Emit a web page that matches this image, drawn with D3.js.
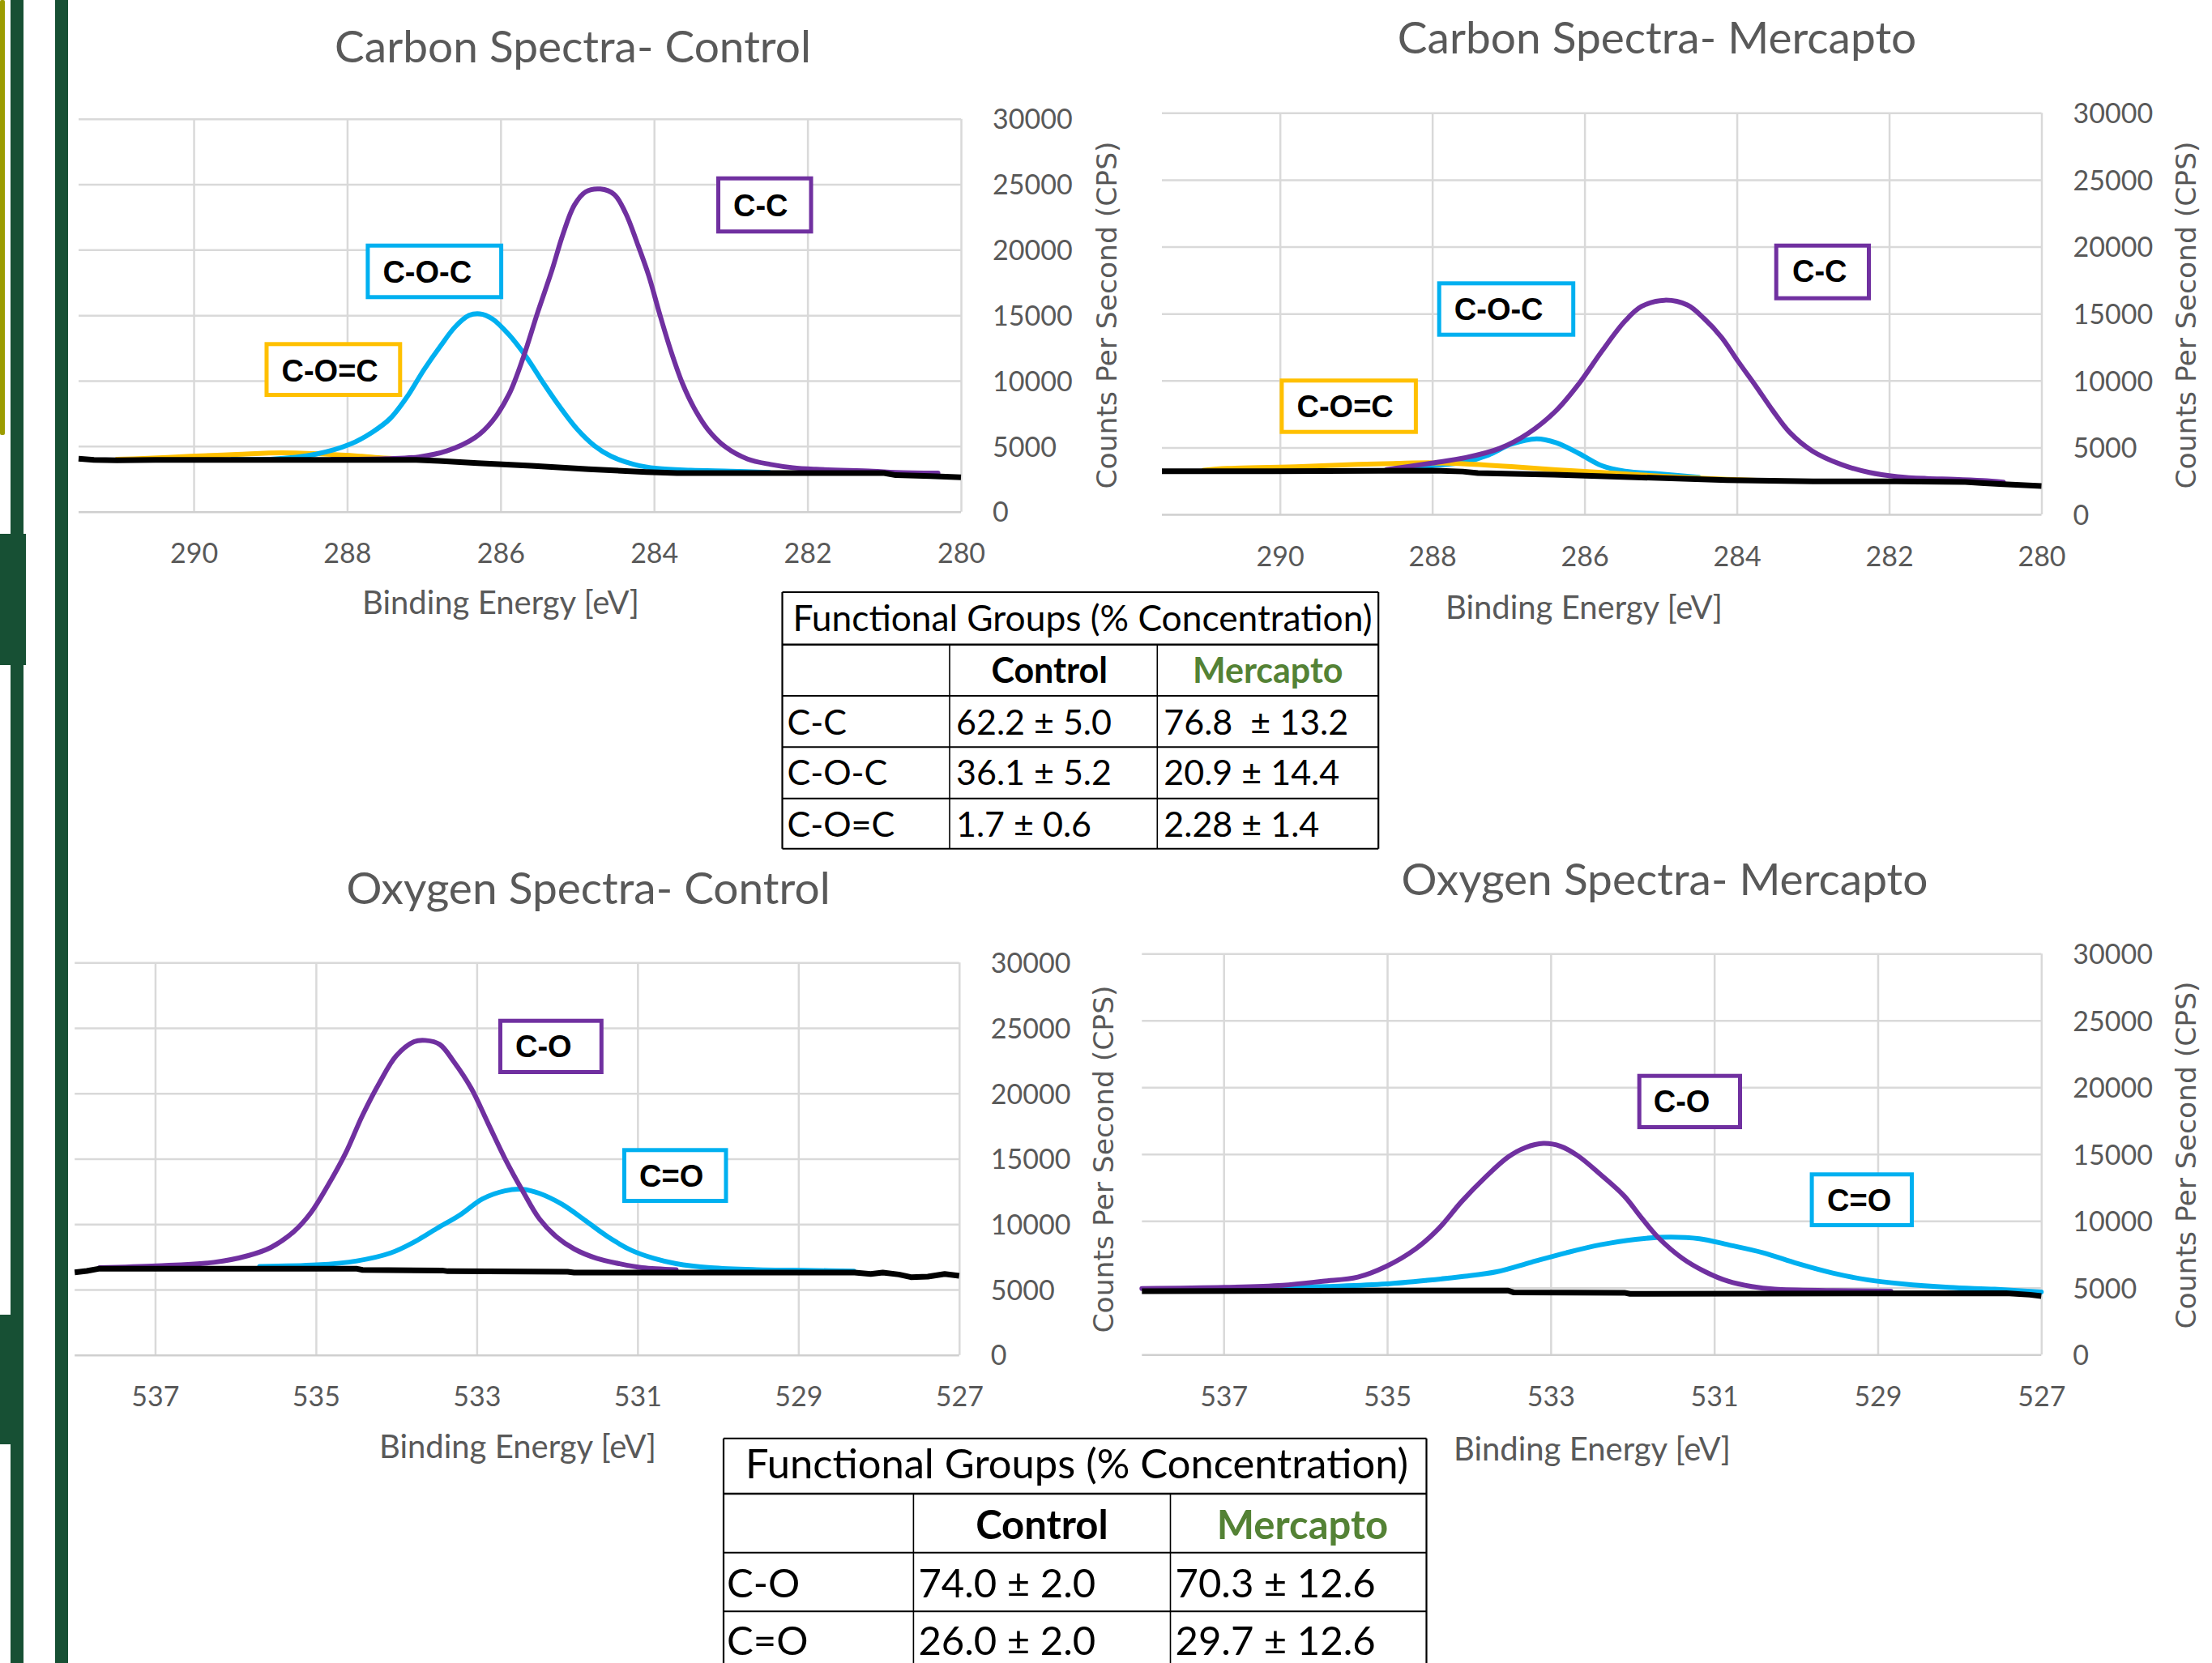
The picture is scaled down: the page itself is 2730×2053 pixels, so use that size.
<!DOCTYPE html>
<html>
<head>
<meta charset="utf-8">
<script src="https://cdn.jsdelivr.net/npm/d3@7"></script>
<style>
  body { margin: 0; background: #fff; }
  svg { display: block; }
</style>
</head>
<body>
<div id="chart"></div>
<script>
// ---------- Data ----------
const carbonTicks = [290, 288, 286, 284, 282, 280];
const oxygenTicks = [537, 535, 533, 531, 529, 527];
const countTicks = [0, 5000, 10000, 15000, 20000, 25000, 30000];

// [binding energy (eV), counts per second]
const cCtrlBackground = [[291.5,4050],[291.3,3950],[291.0,3920],[290.5,3950],[289.3,3960],[288.0,3960],[287.1,3950],[286.8,3880],[286.3,3710],[285.6,3500],[284.85,3240],[284.1,3030],[283.7,2950],[282.5,2950],[281.0,2950],[280.85,2790],[280.4,2720],[280.0,2620]];
const cCtrlCC = [[288.2,3990],[287.5,4050],[287.07,4180],[286.7,4640],[286.33,5670],[286.11,6900],[285.89,8970],[285.70,11860],[285.52,15160],[285.33,18450],[285.19,21140],[285.04,23400],[284.89,24430],[284.70,24640],[284.52,24230],[284.37,22790],[284.22,20520],[284.07,18040],[283.93,15160],[283.78,12270],[283.63,9800],[283.48,7940],[283.30,6290],[283.07,4950],[282.78,4020],[282.48,3610],[282.19,3360],[281.89,3240],[281.15,3090],[280.85,3000],[280.3,2950]];
const cCtrlCOC = [[289.5,3980],[289.0,4000],[288.41,4390],[287.96,5160],[287.67,6080],[287.44,7110],[287.22,8760],[287.0,10830],[286.78,12680],[286.59,14130],[286.41,14990],[286.27,15110],[286.11,14740],[285.89,13510],[285.67,11860],[285.44,9800],[285.22,7940],[285.0,6290],[284.78,5050],[284.56,4230],[284.26,3610],[283.96,3300],[283.52,3160],[283.0,3090],[282.5,3000]];
const cCtrlCOdC = [[291.0,4000],[290.78,4030],[290.04,4230],[289.44,4370],[288.85,4490],[288.26,4390],[287.81,4230],[287.52,4100],[287.0,3990]];

const cMercBackground = [[291.55,3230],[290.1,3230],[288.0,3270],[287.6,3200],[287.4,3090],[286.4,2970],[285.25,2760],[284.13,2560],[283.0,2460],[281.9,2460],[281.0,2420],[280.75,2330],[280.5,2250],[280.0,2120]];
const cMercCC = [[288.6,3350],[288.01,3830],[287.56,4240],[287.11,4940],[286.74,6050],[286.37,7770],[286.07,9790],[285.77,12210],[285.47,14430],[285.25,15540],[284.95,16000],[284.65,15640],[284.43,14630],[284.20,13220],[283.98,11400],[283.75,9580],[283.53,7770],[283.31,6150],[283.01,4740],[282.63,3730],[282.26,3130],[281.89,2820],[281.51,2680],[281.14,2620],[280.77,2520],[280.5,2400]];
const cMercCOC = [[288.5,3400],[288.01,3630],[287.56,3930],[287.26,4440],[286.96,5250],[286.63,5650],[286.37,5350],[286.07,4540],[285.77,3630],[285.47,3230],[285.02,3030],[284.5,2770]];
const cMercCOdC = [[291.0,3300],[290.69,3430],[289.72,3570],[288.98,3730],[288.46,3810],[288.01,3850],[287.56,3770],[286.96,3570],[286.37,3330],[285.77,3130],[284.87,2820],[284.13,2620],[283.38,2480]];

const oCtrlBackground = [[538.0,6320],[537.85,6420],[537.69,6600],[534.5,6600],[534.42,6500],[533.43,6460],[533.36,6400],[531.87,6360],[531.79,6300],[528.3,6300],[528.1,6190],[527.95,6300],[527.75,6150],[527.6,5950],[527.39,5990],[527.18,6190],[527.0,6050]];
const oCtrlCO = [[537.69,6670],[536.98,6810],[536.27,7080],[535.84,7600],[535.56,8220],[535.27,9460],[535.06,10900],[534.85,12970],[534.63,15440],[534.42,18330],[534.21,20810],[534.0,22880],[533.78,23950],[533.64,24050],[533.46,23740],[533.29,22460],[533.07,20400],[532.86,17720],[532.65,15030],[532.43,12550],[532.22,10400],[532.01,9040],[531.79,8110],[531.51,7390],[531.23,6980],[530.94,6670],[530.52,6520]];
const oCtrlCdO = [[535.70,6770],[534.99,6880],[534.49,7190],[534.07,7800],[533.78,8630],[533.50,9660],[533.21,10700],[532.93,11930],[532.65,12550],[532.43,12660],[532.22,12350],[531.94,11520],[531.65,10280],[531.37,9040],[531.08,8010],[530.80,7390],[530.52,6980],[530.09,6670],[529.52,6520],[528.81,6460],[528.31,6400]];

const oMercBackground = [[538.0,4750],[535.0,4790],[533.52,4790],[533.45,4650],[532.1,4630],[532.03,4550],[527.43,4590],[527.14,4480],[527.0,4380]];
const oMercCO = [[538.0,4950],[536.99,5030],[536.28,5190],[535.79,5490],[535.36,5800],[535.01,6610],[534.65,7920],[534.37,9430],[534.09,11450],[533.80,13270],[533.52,14790],[533.31,15490],[533.09,15800],[532.88,15590],[532.67,14890],[532.39,13470],[532.10,11860],[531.89,10240],[531.68,8730],[531.39,7210],[531.11,6200],[530.83,5490],[530.54,5090],[530.26,4890],[529.55,4790],[528.84,4750]];
const oMercCdO = [[536.28,5030],[535.58,5130],[535.01,5290],[534.51,5560],[534.09,5840],[533.66,6200],[533.24,6910],[532.81,7620],[532.39,8220],[531.96,8630],[531.54,8790],[531.18,8670],[530.83,8220],[530.40,7620],[529.98,6810],[529.55,6100],[529.13,5600],[528.70,5290],[528.13,5030],[527.57,4890],[527.0,4690]];

// Tables
const tableColumns = ["Control", "Mercapto"];
const carbonGroups = ["C-C", "C-O-C", "C-O=C"];
const carbonControlPct = ["62.2 \u00b1 5.0", "36.1 \u00b1 5.2", "1.7 \u00b1 0.6"];
const carbonMercaptoPct = ["76.8  \u00b1 13.2", "20.9 \u00b1 14.4", "2.28 \u00b1 1.4"];
const oxygenGroups = ["C-O", "C=O"];
const oxygenControlPct = ["74.0 \u00b1 2.0", "26.0 \u00b1 2.0"];
const oxygenMercaptoPct = ["70.3 \u00b1 12.6", "29.7 \u00b1 12.6"];

// ---------- Style ----------
const W = 2730, H = 2053;
const purple = "#7030A0", cyan = "#00B0F0", yellow = "#FFC000";
const green = "#175034";
const gray = "#595959";
const gridColor = "#d9d9d9";
const sans = "Lato, 'Open Sans', sans-serif";

const svg = d3.select("#chart").append("svg")
    .attr("width", W).attr("height", H)
    .attr("viewBox", `0 0 ${W} ${H}`);

svg.append("rect").attr("width", W).attr("height", H).attr("fill", "#fff");

// Poster side bars
svg.append("rect").attr("x", 0).attr("y", 0).attr("width", 6).attr("height", 537).attr("rx", 2).attr("fill", "#9c9c00");
svg.append("rect").attr("x", 13).attr("y", 0).attr("width", 16).attr("height", H).attr("fill", green);
svg.append("rect").attr("x", 68).attr("y", 0).attr("width", 16).attr("height", H).attr("fill", green);
svg.append("rect").attr("x", 0).attr("y", 659).attr("width", 32).attr("height", 162).attr("fill", green);
svg.append("rect").attr("x", 0).attr("y", 1623).attr("width", 29).attr("height", 160).attr("fill", green);

// ---------- Panels ----------
const panels = [
  {
    title: "Carbon Spectra- Control", domain: [291.5, 280], ticks: carbonTicks,
    x0: 97, x1: 1186, top: 146.7, bottom: 631.7,
    titleX: 707, titleY: 76.5, xTitleX: 618, xTitleY: 757.6, yTitleX: 1378, yTitleY: 389,
    background: cCtrlBackground,
    series: [{ data: cCtrlCOdC, color: yellow }, { data: cCtrlCOC, color: cyan }, { data: cCtrlCC, color: purple }],
    boxes: [
      { label: "C-C", color: purple, x: 884, y: 217.7, w: 119.5, h: 70.6, tx: 905, ty: 267 },
      { label: "C-O-C", color: cyan, x: 451.4, y: 300.7, w: 169.7, h: 68.6, tx: 472.4, ty: 349 },
      { label: "C-O=C", color: yellow, x: 326.5, y: 422.3, w: 169.8, h: 67.7, tx: 347.5, ty: 471 }
    ]
  },
  {
    title: "Carbon Spectra- Mercapto", domain: [291.55, 280], ticks: carbonTicks,
    x0: 1434, x1: 2519.5, top: 139.3, bottom: 635,
    titleX: 2045, titleY: 66.3, xTitleX: 1955, xTitleY: 763.8, yTitleX: 2710, yTitleY: 389,
    background: cMercBackground,
    series: [{ data: cMercCOC, color: cyan }, { data: cMercCOdC, color: yellow }, { data: cMercCC, color: purple }],
    boxes: [
      { label: "C-C", color: purple, x: 2189.7, y: 300.7, w: 119.3, h: 70, tx: 2212, ty: 348.3 },
      { label: "C-O-C", color: cyan, x: 1773.7, y: 347.3, w: 170.5, h: 68.4, tx: 1794.8, ty: 395 },
      { label: "C-O=C", color: yellow, x: 1579.4, y: 467.3, w: 170.5, h: 68.4, tx: 1600.5, ty: 515 }
    ]
  },
  {
    title: "Oxygen Spectra- Control", domain: [538, 527], ticks: oxygenTicks,
    x0: 92.2, x1: 1183.8, top: 1188.3, bottom: 1672.7,
    titleX: 726, titleY: 1116.3, xTitleX: 639, xTitleY: 1800, yTitleX: 1373.5, yTitleY: 1431,
    background: oCtrlBackground,
    series: [{ data: oCtrlCdO, color: cyan }, { data: oCtrlCO, color: purple }],
    boxes: [
      { label: "C-O", color: purple, x: 615, y: 1257.7, w: 129.8, h: 68.3, tx: 636, ty: 1305 },
      { label: "C=O", color: cyan, x: 768, y: 1417.3, w: 130.5, h: 67.7, tx: 789, ty: 1465 }
    ]
  },
  {
    title: "Oxygen Spectra- Mercapto", domain: [538, 527], ticks: oxygenTicks,
    x0: 1409.3, x1: 2519.3, top: 1177.3, bottom: 1672.3,
    titleX: 2054.5, titleY: 1105, xTitleX: 1965, xTitleY: 1802.6, yTitleX: 2710, yTitleY: 1426,
    background: oMercBackground,
    series: [{ data: oMercCdO, color: cyan }, { data: oMercCO, color: purple }],
    boxes: [
      { label: "C-O", color: purple, x: 2020.7, y: 1325.7, w: 129.3, h: 68.3, tx: 2040.7, ty: 1373.3 },
      { label: "C=O", color: cyan, x: 2233.6, y: 1447.3, w: 128.4, h: 67.7, tx: 2255, ty: 1495.3 }
    ]
  }
];

function drawPanel(p) {
  const g = svg.append("g");
  const x = d3.scaleLinear().domain(p.domain).range([p.x0, p.x1]);
  const y = d3.scaleLinear().domain([0, 30000]).range([p.bottom, p.top]);
  const w = p.x1 - p.x0, h = p.bottom - p.top;

  // gridlines
  g.append("g").attr("transform", `translate(0,${p.bottom})`)
    .call(d3.axisBottom(x).tickValues(p.ticks).tickSize(-h).tickFormat(""))
    .call(s => s.select(".domain").remove())
    .selectAll("line").attr("stroke", gridColor).attr("stroke-width", 2.5);
  g.append("g").attr("transform", `translate(${p.x0},0)`)
    .call(d3.axisLeft(y).tickValues(countTicks).tickSize(-w).tickFormat(""))
    .call(s => s.select(".domain").remove())
    .selectAll("line").attr("stroke", d => d === 0 ? "#cfcfcf" : gridColor).attr("stroke-width", 2.5);

  // tick labels
  const xa = g.append("g").attr("transform", `translate(0,${p.bottom})`)
    .call(d3.axisBottom(x).tickValues(p.ticks).tickSize(0).tickFormat(d3.format("d")));
  xa.select(".domain").remove();
  xa.attr("font-family", sans).attr("font-size", 34);
  xa.selectAll("text").attr("y", 63.5).attr("dy", null).attr("fill", gray);

  const ya = g.append("g").attr("transform", `translate(${p.x1},0)`)
    .call(d3.axisRight(y).tickValues(countTicks).tickSize(0).tickPadding(39).tickFormat(d3.format("d")));
  ya.select(".domain").remove();
  ya.attr("font-family", sans).attr("font-size", 34);
  ya.selectAll("text").attr("dy", "0.36em").attr("fill", gray);

  // titles
  g.append("text").attr("x", p.titleX).attr("y", p.titleY)
    .attr("text-anchor", "middle").attr("font-family", sans).attr("font-size", 55)
    .attr("fill", gray).text(p.title);
  g.append("text").attr("x", p.xTitleX).attr("y", p.xTitleY)
    .attr("text-anchor", "middle").attr("font-family", sans).attr("font-size", 40)
    .attr("fill", gray).text("Binding Energy [eV]");
  g.append("text").attr("transform", `translate(${p.yTitleX},${p.yTitleY}) rotate(-90)`)
    .attr("text-anchor", "middle").attr("font-family", "'DejaVu Sans', Verdana, sans-serif")
    .attr("font-size", 34.5).attr("fill", gray).text("Counts Per Second (CPS)");

  // curves
  const smooth = d3.line().x(d => x(d[0])).y(d => y(d[1])).curve(d3.curveCatmullRom.alpha(0.5));
  const straight = d3.line().x(d => x(d[0])).y(d => y(d[1]));
  p.series.forEach(s => {
    g.append("path").datum(s.data).attr("d", smooth)
      .attr("fill", "none").attr("stroke", s.color).attr("stroke-width", 6)
      .attr("stroke-linejoin", "round").attr("stroke-linecap", "round");
  });
  g.append("path").datum(p.background).attr("d", straight)
    .attr("fill", "none").attr("stroke", "#000").attr("stroke-width", 7)
    .attr("stroke-linejoin", "round");

  // label boxes
  p.boxes.forEach(b => {
    g.append("rect").attr("x", b.x + 2.5).attr("y", b.y + 2.5)
      .attr("width", b.w - 5).attr("height", b.h - 5)
      .attr("fill", "#fff").attr("stroke", b.color).attr("stroke-width", 5);
    g.append("text").attr("x", b.tx).attr("y", b.ty)
      .attr("font-family", "'Liberation Sans', Arial, sans-serif").attr("font-weight", "bold")
      .attr("font-size", 38).attr("fill", "#000").text(b.label);
  });
}

panels.forEach(drawPanel);

// ---------- Tables ----------
function drawTable(t, groups, ctrl, merc) {
  const g = svg.append("g");
  const cols = t.cols, rows = t.rows;
  // cell lines
  rows.forEach((ry, i) => {
    g.append("line").attr("x1", cols[0]).attr("x2", cols[3]).attr("y1", ry).attr("y2", ry)
      .attr("stroke", "#000").attr("stroke-width", i === 1 ? 2.6 : 2);
  });
  [0, 3].forEach(i => {
    g.append("line").attr("x1", cols[i]).attr("x2", cols[i])
      .attr("y1", rows[0]).attr("y2", rows[rows.length - 1])
      .attr("stroke", "#000").attr("stroke-width", 2.2);
  });
  [1, 2].forEach(i => {
    g.append("line").attr("x1", cols[i]).attr("x2", cols[i])
      .attr("y1", rows[1]).attr("y2", rows[rows.length - 1])
      .attr("stroke", "#000").attr("stroke-width", 1.6);
  });

  g.append("text").attr("x", t.titleX).attr("y", t.titleY).attr("text-anchor", "middle")
    .attr("font-family", sans).attr("font-size", t.titleFs).attr("fill", "#000")
    .text("Functional Groups (% Concentration)");

  tableColumns.forEach((c, i) => {
    g.append("text").attr("x", (cols[i + 1] + cols[i + 2]) / 2 + t.headShift[i]).attr("y", t.headY)
      .attr("text-anchor", "middle").attr("font-family", sans).attr("font-weight", "bold")
      .attr("font-size", t.fs).attr("fill", i === 0 ? "#000" : "#548235").text(c);
  });

  groups.forEach((gr, i) => {
    const by = t.rowY[i];
    g.append("text").attr("x", cols[0] + t.pad).attr("y", by)
      .attr("font-family", sans).attr("font-size", t.fs).attr("fill", "#000").text(gr);
    g.append("text").attr("x", cols[1] + t.pad + 2).attr("y", by)
      .attr("font-family", sans).attr("font-size", t.fs).attr("fill", "#000")
      .style("white-space", "pre").text(ctrl[i]);
    g.append("text").attr("x", cols[2] + t.pad + 2).attr("y", by)
      .attr("font-family", sans).attr("font-size", t.fs).attr("fill", "#000")
      .style("white-space", "pre").text(merc[i]);
  });
}

drawTable({
  cols: [965.5, 1172, 1428.3, 1701.2],
  rows: [731, 795.7, 859, 922.3, 985.7, 1047.7],
  titleX: 1336, titleY: 779, headY: 843.3, headShift: [-5, 0],
  rowY: [906.7, 969.3, 1032.7], pad: 6, fs: 43, titleFs: 44.3
}, carbonGroups, carbonControlPct, carbonMercaptoPct);

drawTable({
  cols: [893, 1127.4, 1444.5, 1760.5],
  rows: [1775.7, 1844, 1916.7, 1989.3, 2062],
  titleX: 1329, titleY: 1825, headY: 1900, headShift: [0, 5],
  rowY: [1971.7, 2043.3], pad: 4, fs: 49, titleFs: 50.7
}, oxygenGroups, oxygenControlPct, oxygenMercaptoPct);
</script>
</body>
</html>
